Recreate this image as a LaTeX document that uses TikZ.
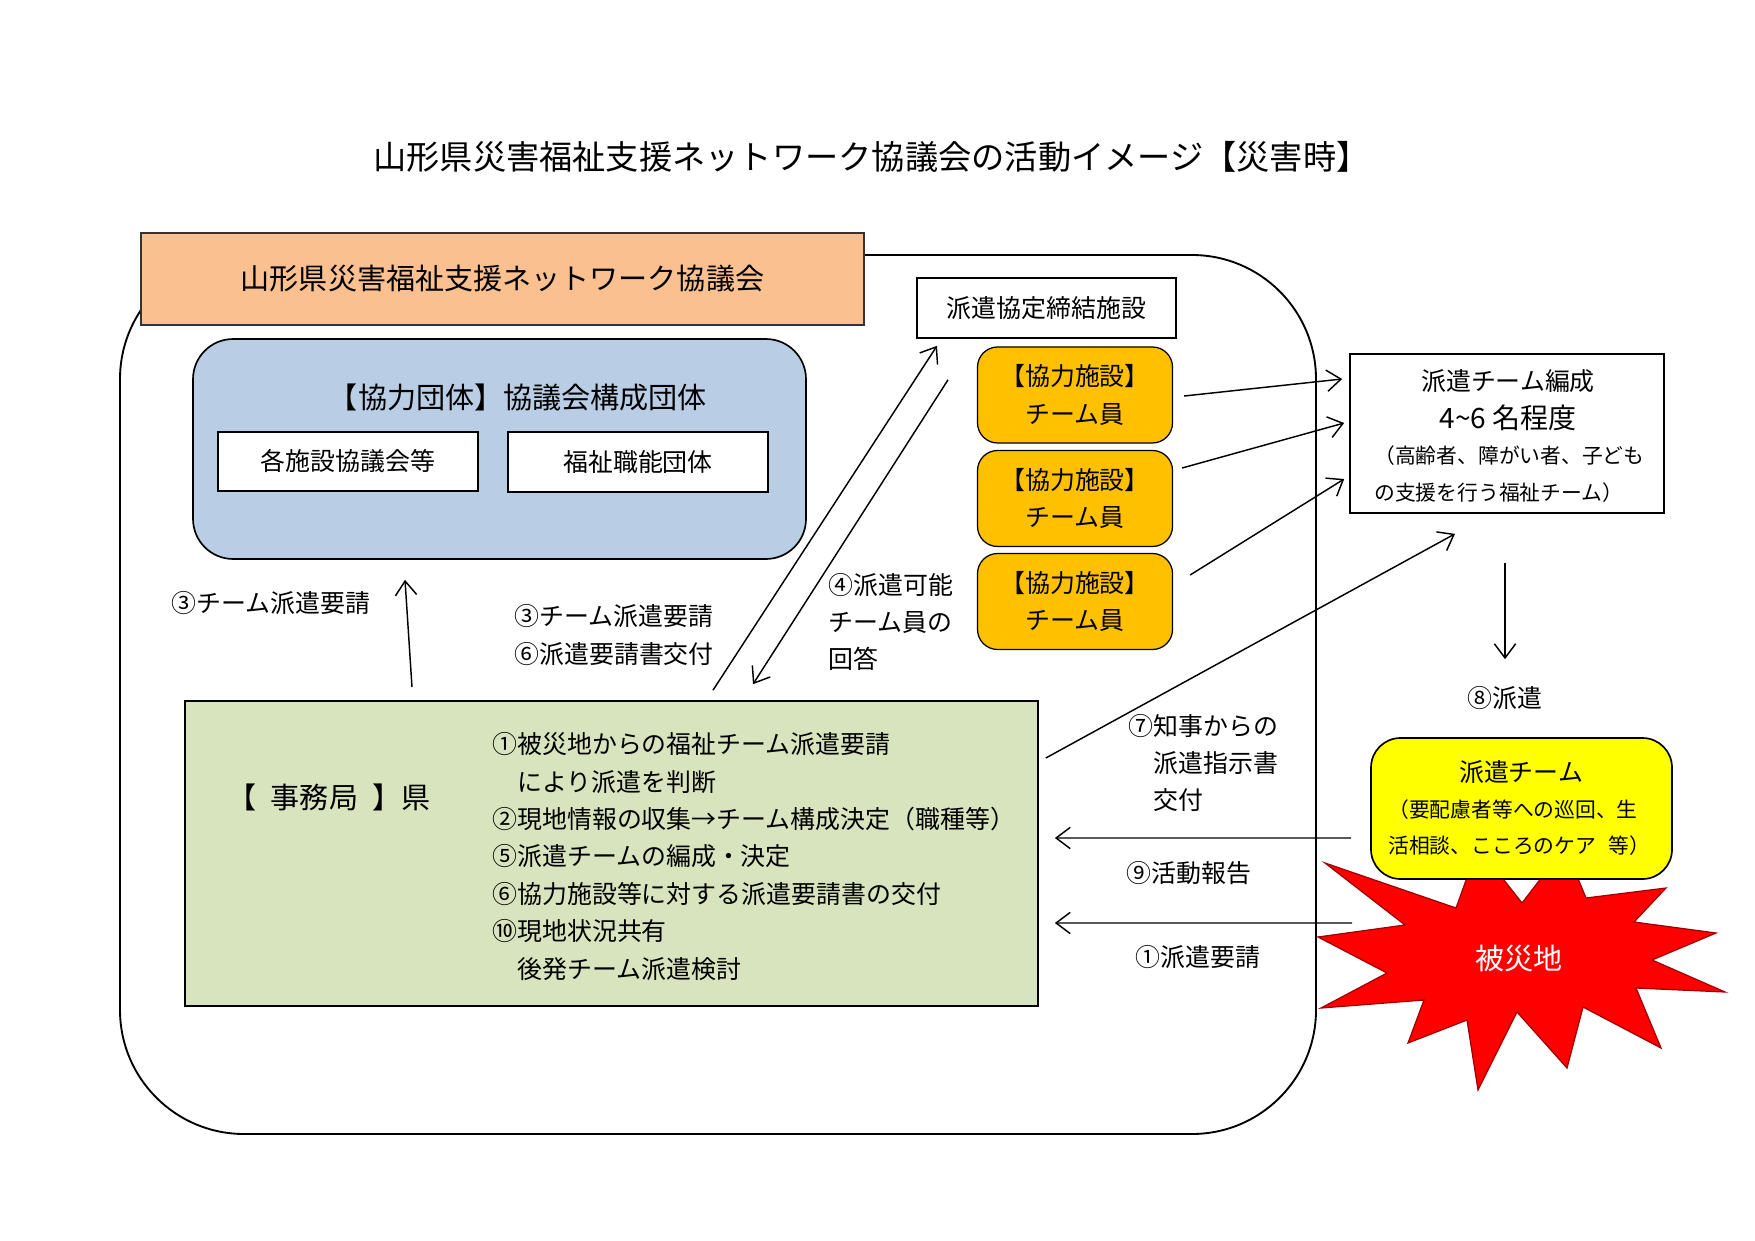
\documentclass[tikz,border=0pt]{standalone}
\usepackage{fontspec}
\setmainfont{Noto Sans CJK JP}
\usepackage{xcolor}
\usetikzlibrary{arrows.meta,positioning}

\newcommand{\pxu}{0.1692mm}
\definecolor{kyogiorange}{HTML}{FAC090}
\definecolor{dantaiblue}{HTML}{B9CDE5}
\definecolor{jimugreen}{HTML}{D7E4BD}
\definecolor{shisetsuorange}{HTML}{FFC000}
\definecolor{hakenyellow}{HTML}{FFFF00}
\definecolor{saigaired}{HTML}{FF0000}
\definecolor{burstline}{HTML}{A00000}

\tikzset{
  wh/.style 2 args={
    minimum width = #1*\pxu,
    minimum height = #2*\pxu
  },
  t16/.style={font=\fontsize{16pt}{20pt}\selectfont, inner sep=0pt},
  t14/.style={font=\fontsize{14pt}{20pt}\selectfont, inner sep=0pt},
  t12/.style={font=\fontsize{12pt}{18pt}\selectfont, inner sep=0pt},
  t10/.style={font=\fontsize{10pt}{17.5pt}\selectfont, inner sep=0pt},
  plainbox/.style={
    shape = rectangle,
    draw,
    line width = 0.8pt,
    fill = white,
    inner sep = 0pt
  },
  kyogikai/.style={
    plainbox,
    t14,
    draw = black!80,
    fill = kyogiorange
  },
  dantai/.style={
    plainbox,
    fill = dantaiblue,
    rounded corners = 6.8mm
  },
  teambox/.style={
    plainbox,
    t12,
    align = center,
    line width = 0.6pt,
    fill = shisetsuorange,
    rounded corners = 3.4mm
  },
  jimu/.style={
    plainbox,
    fill = jimugreen
  },
  hakenbox/.style={
    plainbox,
    fill = hakenyellow,
    rounded corners = 5mm
  },
  burst/.style={
    fill = saigaired,
    draw = burstline,
    line width = 0.6pt,
    line join = miter
  },
  arr/.style={
    ->,
    line width = 0.7pt
  }
}

\begin{document}
\begin{tikzpicture}[x=\pxu, y=-\pxu, >={Straight Barb[length=2.4mm,width=3.6mm]}]
  \path[use as bounding box, fill=white] (0,0) rectangle (1755,1241);

  \node[t16] (title) at (871.5,157) {山形県災害福祉支援ネットワーク協議会の活動イメージ【災害時】};

  % network frame
  \draw[line width=0.9pt, rounded corners=21mm] (120,255) rectangle (1316,1134);
  \node[kyogikai, wh={723}{92}] (kyogikai) at (502.5,279) {山形県災害福祉支援ネットワーク協議会};

  \node[dantai, wh={613}{220}] (dantai) at (499.5,449) {};
  \node[t14] (dantaiT) at (518,397) {【協力団体】協議会構成団体};
  \node[plainbox, t12, wh={260}{59}] (shisetsu) at (348,461.5) {各施設協議会等};
  \node[plainbox, t12, wh={260}{60}] (shokuno) at (638,462) {福祉職能団体};

  \node[plainbox, t12, wh={259}{60}] (kyotei) at (1046.5,308) {派遣協定締結施設};
  \foreach \i/\y in {1/395,2/498.5,3/601.5}
    \node[teambox, wh={195}{96}] (team\i) at (1075,\y) {【協力施設】\\チーム員};

  \node[plainbox, wh={314}{159}] (hensei) at (1507,433.5) {};
  \node[t12] (henseiT) at (1508,381) {派遣チーム編成};
  \node[t12, font=\fontsize{13.5pt}{18pt}\selectfont] (henseiN) at (1508,418) {4\textasciitilde 6 名程度};
  \node[t10, align=left, anchor=west] (henseiS) at (1374,474) {（高齢者、障がい者、子ども\\の支援を行う福祉チーム）};

  % secretariat
  \node[jimu, wh={853}{305}] (jimu) at (611.5,853.5) {};
  \node[t14] (jimuT) at (329,797) {【\hspace{.5em}事務局\hspace{.5em}】県};
  \node[t12, align=left, anchor=west] (jimuL) at (492,856.5) {①被災地からの福祉チーム派遣要請\\　により派遣を判断\\②現地情報の収集→チーム構成決定（職種等）\\⑤派遣チームの編成・決定\\⑥協力施設等に対する派遣要請書の交付\\⑩現地状況共有\\　後発チーム派遣検討};

  % disaster area
  \draw[burst] (1325,863) -- (1456,908) -- (1478,847) -- (1522,903) -- (1565,847)
    -- (1586,898) -- (1666,888) -- (1634,922) -- (1716,933) -- (1652,960)
    -- (1725,992) -- (1636,988) -- (1661,1048) -- (1583,1007) -- (1567,1068)
    -- (1517,1012) -- (1478,1090) -- (1467,1020) -- (1408,1043) -- (1424,1000)
    -- (1321,1008) -- (1387,973) -- (1318,937) -- (1405,925) -- cycle;
  \node[t14, text=white] (hisaichi) at (1519,958) {被災地};
  \coordinate (hisaichiL) at (1352,923);

  \node[hakenbox, wh={301}{141}] (haken) at (1521.5,808.5) {};
  \node[t12] (hakenT) at (1521,772) {派遣チーム};
  \node[t10, align=left, anchor=west] (hakenS) at (1388,827.5) {（要配慮者等への巡回、生\\活相談、こころのケア\hspace{.6em}等）};

  % arrows
  \draw[arr] ([shift={(-199.5,-13)}]jimu.north) -- ([shift={(-94.5,20)}]dantai.south);
  \draw[arr] ([shift={(101.5,-10)}]jimu.north) -- ([shift={(-109.5,7)}]kyotei.south);
  \draw[arr] ([shift={(-98.5,41)}]kyotei.south) -- ([shift={(141.5,-16)}]jimu.north);
  \draw[arr] ([shift={(11,1)}]team1.east) -- ([shift={(-7,-54.5)}]hensei.west);
  \draw[arr] ([shift={(9,-30.5)}]team2.east) -- ([shift={(-5,-10.5)}]hensei.west);
  \draw[arr] ([shift={(17,-26.5)}]team3.east) -- ([shift={(-5,45.5)}]hensei.west);
  \draw[arr] ([shift={(7,-95.5)}]jimu.east) -- ([shift={(-52,20)}]hensei.south);
  \draw[arr] ([shift={(-2,49)}]hensei.south) -- ([shift={(-16.5,-78)}]haken.north);
  \draw[arr] ([shift={(-19,29.5)}]haken.west) -- ([shift={(16,-15.5)}]jimu.east);
  \draw[arr] (hisaichiL) -- ([shift={(16,69.5)}]jimu.east);

  % labels
  \node[t12] (lbl3) at (271,603) {③チーム派遣要請};
  \node[t12, align=left, anchor=west] (lbl36) at (514,635) {③チーム派遣要請\\⑥派遣要請書交付};
  \node[t12, align=left, anchor=west] (lbl4) at (828,622) {④派遣可能\\チーム員の\\回答};
  \node[t12, align=left, anchor=west] (lbl7) at (1128,763) {⑦知事からの\\　派遣指示書\\　交付};
  \node[t12] (lbl8) at (1505,698) {⑧派遣};
  \node[t12] (lbl9) at (1189,873) {⑨活動報告};
  \node[t12] (lbl1) at (1198,957) {①派遣要請};
\end{tikzpicture}
\end{document}
